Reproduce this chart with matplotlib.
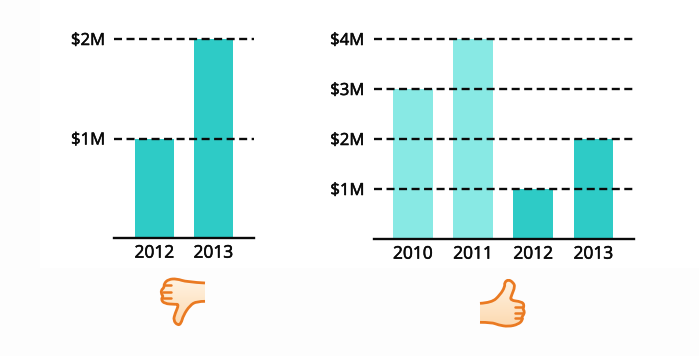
import numpy as np
import matplotlib
matplotlib.use("Agg")
import matplotlib.pyplot as plt
import matplotlib.patheffects as pe
from matplotlib.path import Path
from matplotlib.patches import PathPatch, Rectangle

plt.rcParams['font.family'] = ['Open Sans', 'DejaVu Sans']

# Data
left_years = ["2012", "2013"]
left_values = [1, 2]
left_ticks = [1, 2]
left_ticklabels = ["$1M", "$2M"]

right_years = ["2010", "2011", "2012", "2013"]
right_values = [3, 4, 1, 2]
right_ticks = [1, 2, 3, 4]
right_ticklabels = ["$1M", "$2M", "$3M", "$4M"]

TEAL = "#2ecbc6"
LIGHT = "#88e9e4"
INK = "#0a0a0a"
ORANGE = "#ea7a22"
W, H = 699, 356

fig = plt.figure(figsize=(W / 100, H / 100), dpi=100, facecolor="#fdfdfd")


def frame(x0, x1, y_top, y_bottom):
    return [x0 / W, 1 - y_bottom / H, (x1 - x0) / W, (y_bottom - y_top) / H]


bg = fig.add_axes([0, 0, 1, 1], zorder=0)
bg.set_xlim(0, W)
bg.set_ylim(H, 0)
bg.axis("off")
bg.add_patch(Rectangle((40, 0), W - 40, 268, fc="white", ec="none"))


def smooth(points, closed=False):
    pts = np.asarray(points, float)
    verts = [pts[0]]
    codes = [Path.MOVETO]
    for i in range(1, len(pts) - 1):
        mid = (pts[i] + pts[i + 1]) / 2 if i < len(pts) - 2 else pts[i + 1]
        verts += [pts[i], mid]
        codes += [Path.CURVE3, Path.CURVE3]
    if closed:
        verts.append(pts[0])
        codes.append(Path.LINETO)
    return Path(verts, codes)


def thumb(ox, oy, outline, creases):
    pts = [(ox + x / 3, oy + y / 3) for x, y in outline]
    xs, ys = zip(*pts)
    fill = PathPatch(smooth(pts, closed=True), fc="none", ec="none")
    bg.add_patch(fill)
    top = np.array([1.0, 0.955, 0.89])
    bottom = np.array([0.99, 0.85, 0.69])
    t = np.linspace(0, 1, 64)[:, None, None]
    im = bg.imshow(top[None, None, :] * (1 - t) + bottom[None, None, :] * t,
                   extent=(min(xs), max(xs), max(ys), min(ys)),
                   aspect="auto", zorder=1, interpolation="bilinear")
    im.set_clip_path(fill)
    bg.set_xlim(0, W)
    bg.set_ylim(H, 0)
    bg.add_patch(PathPatch(smooth(pts), fc="none", ec=ORANGE, lw=2.0,
                           capstyle="butt", joinstyle="round", zorder=2))
    for (x0, y0), (x1, y1) in creases:
        bg.plot([ox + x0 / 3, ox + x1 / 3], [oy + y0 / 3, oy + y1 / 3],
                color=ORANGE, lw=1.8, solid_capstyle="round", zorder=2)


thumb(155, 272,
      [(150, 33), (95, 30), (65, 20), (40, 22), (27, 35), (28, 46), (18, 55),
       (20, 68), (25, 73), (18, 82), (28, 95), (60, 97), (72, 97), (60, 125),
       (55, 145), (68, 160), (78, 155), (85, 130), (105, 100), (125, 88), (150, 88)],
      [((30, 40), (48, 40)), ((24, 60), (48, 60)), ((24, 78), (48, 78))])

thumb(470, 270,
      [(30, 100), (65, 98), (90, 75), (105, 50), (103, 38), (115, 28), (130, 38),
       (135, 50), (125, 75), (120, 91), (155, 95), (163, 105), (158, 116), (164, 125),
       (160, 136), (155, 141), (158, 150), (145, 163), (115, 170), (85, 165),
       (65, 157), (30, 157)],
      [((135, 110), (158, 110)), ((135, 128), (160, 128)), ((135, 145), (155, 145))])

stroke = [pe.withStroke(linewidth=0.4, foreground=INK)]


def panel(rect, xlim, ylim, years, values, colors, ticks, ticklabels, ypad):
    ax = fig.add_axes(rect, zorder=1)
    ax.patch.set_alpha(0)
    ax.bar(range(len(years)), values, width=0.66, color=colors, zorder=1)
    ax.set_xlim(*xlim)
    ax.set_ylim(*ylim)
    ax.set_xticks(range(len(years)), years)
    ax.set_yticks(ticks, ticklabels)
    ax.tick_params(length=0, labelcolor=INK)
    ax.tick_params(axis="x", pad=5.5, labelsize=12.5)
    ax.tick_params(axis="y", pad=ypad, labelsize=12)
    for lab in ax.get_xticklabels() + ax.get_yticklabels():
        lab.set_path_effects(stroke)
    ax.yaxis.grid(True, color=INK, lw=1.7, dashes=(3.4, 1.9), zorder=3)
    ax.set_axisbelow(False)
    for side in ("top", "left", "right"):
        ax.spines[side].set_visible(False)
    ax.spines["bottom"].set_color(INK)
    ax.spines["bottom"].set_linewidth(1.7)
    return ax


panel(frame(114, 254, 30, 238), (-40.5 / 59, 1 + 40.5 / 59), (0, 208 / 99.5),
      left_years, left_values, [TEAL, TEAL], left_ticks, left_ticklabels, 6.5)

panel(frame(374, 634, 30, 239), (-39 / 60.2, 3 + 40.5 / 60.2), (0, 209 / 50),
      right_years, right_values, [LIGHT, LIGHT, TEAL, TEAL], right_ticks, right_ticklabels, 7)

fig.savefig("out.png", dpi=100, facecolor=fig.get_facecolor())
